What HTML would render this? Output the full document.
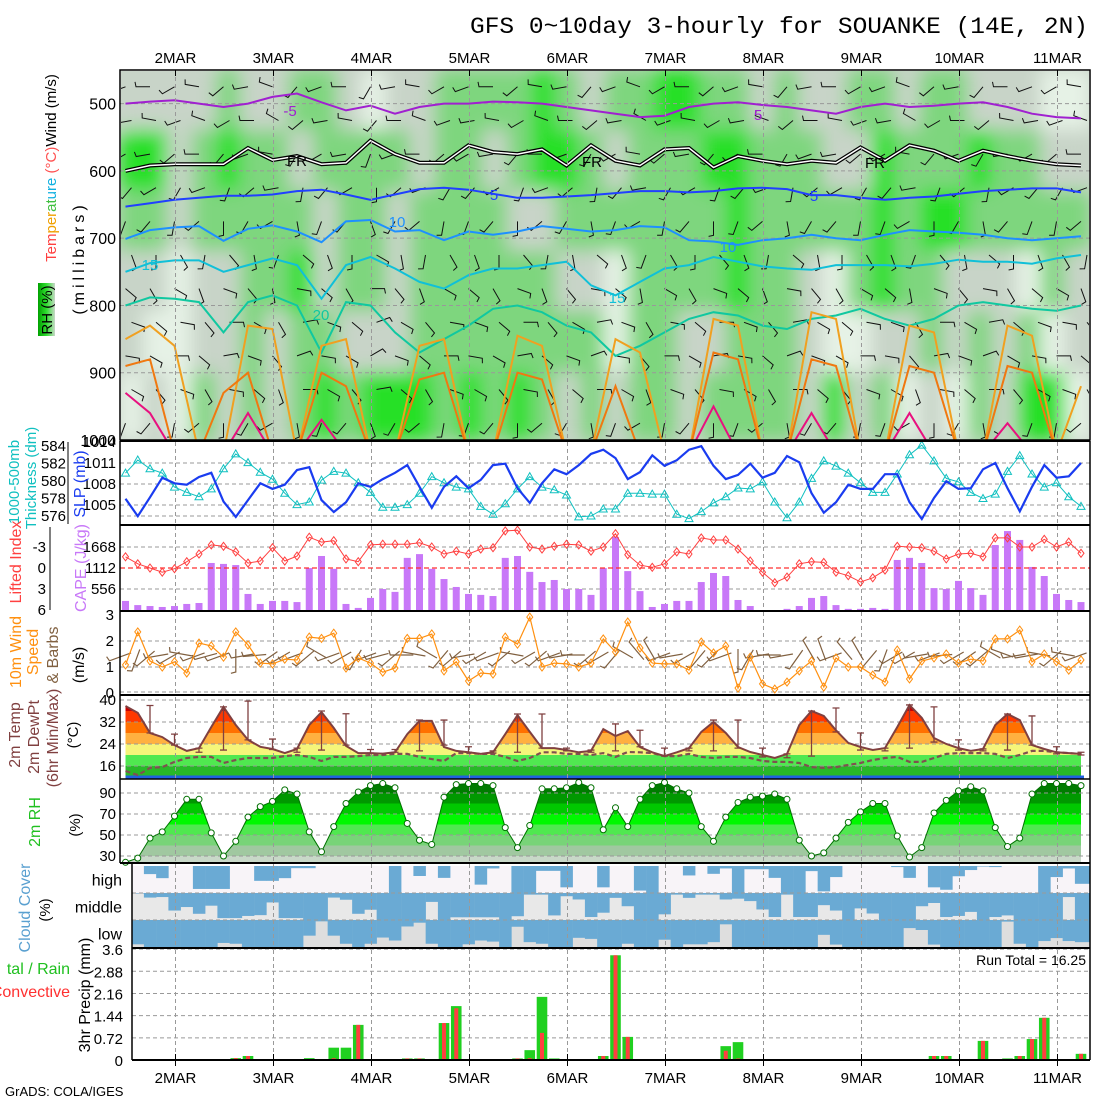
<!DOCTYPE html>
<html><head><meta charset="utf-8"><style>
html,body{margin:0;padding:0;background:#fff;}
svg{display:block;font-family:"Liberation Sans",sans-serif;}
</style></head><body>
<svg id="chart" width="1100" height="1100" viewBox="0 0 1100 1100" xmlns="http://www.w3.org/2000/svg">
<defs>
<filter id="blur" x="-5%" y="-5%" width="110%" height="110%"><feGaussianBlur stdDeviation="9"/></filter>
<clipPath id="mainclip"><rect x="121" y="71" width="968" height="369"/></clipPath>
<clipPath id="cloudclip"><rect x="132" y="865" width="958" height="82"/></clipPath>
<linearGradient id="rhbar" x1="0" y1="0" x2="1" y2="0"><stop offset="0" stop-color="#00a000"/><stop offset="0.5" stop-color="#30e030"/><stop offset="1" stop-color="#c8d8c8"/></linearGradient>
</defs>
<text x="470" y="33" font-family="Liberation Mono, monospace" font-size="23" textLength="618" lengthAdjust="spacingAndGlyphs">GFS 0~10day 3-hourly for SOUANKE (14E, 2N)</text>
<text x="5" y="1096" font-size="13">GrADS: COLA/IGES</text>
</svg>
<script>
// ---------- data ----------
const slp=[1005.9,1003.4,1006.1,1008.9,1008.1,1007.9,1009,1009.6,1005.5,1003.3,1005.7,1008.1,1007.3,1007.9,1010,1010.4,1005.7,1004,1005.4,1008.1,1007.6,1008.7,1009.6,1010.7,1007.6,1004.6,1007.6,1009.1,1007.4,1008.6,1010.7,1010.9,1007.4,1005.3,1008.1,1010.1,1009.4,1010.7,1012.3,1012.9,1011.7,1008.7,1009.7,1012.1,1010.6,1011.4,1012.9,1013.4,1010.6,1008.7,1009.3,1010.9,1008.9,1009.6,1012,1011.1,1006.7,1003.9,1005.4,1007.9,1007.3,1007.3,1009.4,1009.4,1005.4,1003,1006,1008.4,1007.3,1007.4,1010.1,1011,1007.4,1004.1,1007.6,1010.7,1008.9,1009.1,1011];
const thick=[580.9,582.4,581.4,580.9,579.3,578.7,578.2,579.1,581.4,583.1,582.1,581,580.2,578.6,577.3,577.6,580.1,581.1,580.9,579.8,578.7,577,577,577.3,578.6,580.5,579.8,579.3,579.1,577.1,576.2,577.4,579.1,580.5,579.3,579,578.4,575.9,576,576.8,576.8,578.6,578.6,578.5,578.5,576.2,575.7,576.5,577.5,578.2,579.2,579.1,579.9,577.6,575.8,577.6,580.3,582.3,581.7,580.9,579.8,578.7,578.7,580.8,583,584.1,582.3,580.3,579.9,578.7,578,578.5,581.1,582.9,580.8,579.3,579.8,578.2,577.1];
const lifted=[-1.6,-0.6,0,0.6,0.1,-0.9,-2,-3.3,-3.1,-2.3,-0.7,-1,-2.9,-1,-1.7,-4.4,-3.7,-3.9,-1.3,-0.9,-3.3,-3.4,-3.4,-3.4,-3.6,-3,-2,-2.4,-2,-2.7,-2.9,-5.3,-5.4,-3,-2.7,-3.1,-3.4,-3.3,-2.4,-3,-4.9,-1.9,-0.4,-0.1,-0.6,-2.3,-2,-4.3,-4,-4,-2.7,-1,0.6,2.1,1.3,-0.6,-0.9,-0.8,0.6,1.1,2,1.4,0.3,-3.1,-3,-2.9,-2.4,-1.3,-2,-2.1,-1.6,-4.3,-4.3,-3,-3,-4.1,-3,-3.7,-2.1];
const cape=[240,130,105,80,105,160,185,1245,1220,1190,425,160,240,240,210,1110,1430,1090,160,55,320,555,480,1380,1480,1090,820,610,425,400,370,1380,1430,1010,740,795,555,555,400,1110,1935,1030,500,80,160,240,240,740,980,900,265,105,0,0,30,105,320,370,130,30,30,55,30,1325,1380,1245,580,555,770,580,400,1720,2090,1855,1140,900,425,265,210];
const wspd=[1.08,2.35,1.23,1,1.2,0.77,1.92,1.81,1.38,2.35,1.85,1.15,1.12,1.3,1.27,2.15,2.1,2.3,0.96,1.35,1.15,0.8,0.96,2.1,2.1,2.27,0.85,1.2,0.46,0.77,0.73,2.15,1.88,2.92,1,1.15,1.12,1,1.15,2.08,1.58,2.73,1.73,1.15,1.12,1.12,0.88,1.96,1.54,1.81,0.19,1.38,0.35,0.15,0.42,0.85,1.23,0.23,1.35,1,1,0.69,0.42,1.65,0.54,1.23,1.35,1.5,1.15,1.3,1.23,2.08,2.08,2.42,1.2,1.5,1.2,0.88,1.27];
const wdir10=[250,200,230,260,240,280,250,255,250,180,260,265,235,240,250,230,300,250,240,210,250,255,230,270,280,300,220,230,260,240,250,230,280,240,230,250,260,270,230,240,220,300,320,330,250,260,240,220,225,250,180,210,260,270,260,215,330,340,250,320,330,220,200,240,240,260,250,265,240,235,230,300,290,260,260,280,230,280,250];
const temp2m=[37.8,35.3,28,26.5,23.6,21.5,22.5,30.2,37.5,30.9,25.5,23,22.2,20.7,22.2,30.9,35.6,29.8,23.3,20.7,20.7,20.5,21,27.6,32.4,32.4,22.9,21.5,21,20.4,21,27.6,34.5,28.4,22.5,22.5,21.8,21,21.5,29.4,26.9,28.7,22.9,21,19.6,21,22.5,28.4,32,28,22.9,21.1,20,18.9,20.4,30.9,36,34.2,29,24.4,22.9,21.8,22.5,30.2,38.2,33.5,26.2,24,22.5,21.5,22.2,30.9,34.9,32.7,23.6,22.2,21,20.7,20.4];
const dewpt=[14.2,12.7,15.3,15.6,17.5,18.9,19.3,19.3,17.1,18.2,18.9,18.9,18.9,19.6,20,19.3,17.8,19.3,19.3,19.6,20,20,20.4,20.4,19.3,18.5,17.8,20.7,20.7,20.4,20.4,19.3,17.8,18.9,21,21,20.4,20.4,20,20.7,19.3,21.1,21,20.7,19.6,19.6,20.4,19.3,18.9,19.3,19.3,18.9,17.8,17.5,17.5,17.1,15.6,15.3,15.6,16.4,17.1,18.2,18.9,19.3,17.5,17.5,18.9,20.4,20.7,20.7,20.7,20.4,18.9,20,21.5,21.5,21,20.7,20.4];
const tmax6=[null,38,27.6,22.5,37.5,39.6,25.8,22.5,36,35,22,22,32.7,32.7,23,21.5,34.9,34.9,22.5,21.8,31.3,29,22.5,22.5,32.7,32.7,22.5,20.4,36,37.1,28,22.5,38.2,37.5,25.5,22.2,34.9,34.2,23,21];
const tmin6=[null,28,23.6,21,21.8,25.5,22,21,21.8,23.6,20.7,21,21.5,23.6,21,20.7,21,22.5,21.5,21,21.5,23,19.6,21.5,21.5,22.5,19.3,19,19.6,28.4,21.8,21.5,22.5,24.7,21.8,21.5,21.8,23.6,20.4,20];
const rh2m=[24,28,47,53,68,84,84,52,30,44,67,77,82,93,89,53,34,58,80,91,97,99,95,61,45,41,86,98,99,99,97,57,38,59,94,94,95,100,95,55,76,58,84,97,100,94,90,58,44,67,81,86,87,89,84,45,30,33,47,62,72,80,80,49,29,38,71,83,92,96,92,57,39,47,89,99,99,99,97];
const cloudHigh=[0,0,30,45,0,0,85,85,85,0,0,55,55,45,8,8,0,0,0,0,0,0,100,0,37,0,44,0,0,69,9,0,100,100,18,18,79,0,0,79,0,0,91,100,0,0,35,0,29,9,100,12,12,44,100,100,19,94,41,0,0,0,0,4,44,0,79,88,38,15,2,4,0,0,0,100,41,9,66];
const cloudMid=[2,2,17,15,65,52,77,47,93,93,85,82,35,93,93,100,100,17,25,77,62,100,100,100,100,33,100,90,90,90,90,100,86,6,6,83,12,24,89,73,18,49,100,100,79,6,18,6,6,24,21,30,61,89,6,89,89,45,65,100,57,76,100,100,100,49,37,89,85,70,100,89,83,100,100,100,100,15,100];
const cloudLow=[90,90,100,100,100,100,100,100,85,88,100,100,100,100,100,58,5,58,88,100,88,65,76,24,10,88,100,100,90,76,80,100,25,82,88,100,100,66,70,100,100,88,100,100,73,100,90,90,82,16,100,100,100,100,100,100,100,55,91,100,100,100,100,100,30,37,91,100,100,100,100,100,6,88,100,78,67,78,82];
const precipTotal=[0,0,0,0,0,0,0,0,0,0.06,0.13,0,0,0,0,0.06,0,0.4,0.4,1.14,0,0,0,0.05,0.05,0,1.2,1.75,0,0,0,0,0.05,0.32,2.05,0.05,0,0,0,0.13,3.4,0.75,0,0,0,0,0,0,0,0.45,0.58,0,0,0,0,0,0,0,0,0,0,0,0,0,0,0,0.13,0.13,0,0,0.62,0,0.05,0.13,0.68,1.37,0,0,0.2];
const precipConv=[0,0,0,0,0,0,0,0,0,0.06,0.13,0,0,0,0,0,0,0.06,0,1.14,0,0,0,0.05,0.05,0,1.2,1.68,0,0,0,0,0.05,0.06,0.88,0,0,0,0,0.13,3.4,0.75,0,0,0,0,0,0,0,0.3,0.05,0,0,0,0,0,0,0,0,0,0,0,0,0,0,0,0.13,0.13,0,0,0.62,0,0,0.13,0.68,1.37,0,0,0.2];
const dayLabels=['2MAR','3MAR','4MAR','5MAR','6MAR','7MAR','8MAR','9MAR','10MAR','11MAR'];
const rhRows=["1111211221011222232122332212112212211100","3312322122221221233212223322211322232211","2212222212212222112222222322222323322222","1101122312212222221102222322102322111021","1001121221112222222202211222100112121201","0102121232333232321212212222131201021330"];
const rhRowP=[[450,540],[540,630],[630,720],[720,810],[810,900],[900,1000]];
const isoM5=[500,497,495,500,505,500,490,485,498,510,503,515,505,500,500,497,498,500,505,510,515,520,518,505,500,498,502,505,510,515,505,500,505,503,500,498,505,515,520,522];
const iso0=[600,592,590,590,590,566,584,578,590,588,555,575,588,588,562,572,575,568,592,562,585,592,568,566,595,578,585,590,585,588,565,585,562,570,585,570,578,585,590,592];
const iso5=[653,648,643,640,637,637,635,630,628,635,643,635,627,625,628,634,640,640,638,636,633,630,630,632,630,626,625,627,636,636,640,643,640,638,634,630,628,626,626,632];
const iso10=[701,688,684,682,704,686,681,690,706,675,673,690,688,703,690,695,690,682,686,690,688,682,684,703,705,710,703,700,695,700,703,695,688,690,692,695,700,703,700,697];
const iso15=[750,737,733,733,750,740,730,740,790,740,728,745,765,775,755,745,745,740,735,770,785,765,745,740,728,735,742,745,747,740,740,740,742,738,732,735,735,738,730,725];
const iso20=[800,788,790,795,840,795,785,800,870,795,800,840,870,850,830,805,800,810,830,840,875,860,840,820,810,815,830,835,820,815,805,820,830,820,800,795,800,805,808,800];
const iso25=[850,830,860,1020,1020,830,835,1020,860,850,1020,1020,860,850,1020,1020,845,860,1020,1020,850,870,1020,1020,820,830,1020,1020,810,820,1020,1020,830,840,1020,1020,830,845,1020,920];
const iso30=[890,880,1020,1020,930,900,1020,1020,900,920,1020,1020,910,900,1020,1020,900,910,1020,1020,920,1020,1020,1020,870,880,1020,1020,880,890,1020,1020,890,900,1020,1020,890,900,1020,1020];
const iso35=[930,960,1020,1020,1020,960,1020,1020,970,1020,1020,1020,1020,1020,1020,1020,1020,1020,1020,1020,1020,1020,1020,1020,950,1020,1020,1020,960,1020,1020,1020,960,1020,1020,1020,975,1020,1020,1020];
const barbLevels=[475,525,575,625,675,725,775,825,875,925,975];
const barbLevelDir=[250,260,240,220,200,160,130,110,100,120,200];
const barbTimeShift=[0,20,-10,30,-20,10,40,-30,0,20,-40,10,30,-10,0,20,-20,30,10,-30,0,40,-10,20,-20,0,30,-30,10,20,-10,0,40,-20,10,-30,20,0,-10,30];

// ---------- helpers ----------
const svg=document.getElementById('chart');
const NS='http://www.w3.org/2000/svg';
function mk(tag,attrs,parent){const e=document.createElementNS(NS,tag);for(const k in attrs)e.setAttribute(k,attrs[k]);(parent||svg).appendChild(e);return e;}
function X(i){return 125.5+12.25*i;}
function dayX(d){return 175.5+98*d;}
function yP(p){return 70+(p-450)*370/550;}
function ySLP(v){return 505-(v-1005)*7;}
function yTh(v){return 516-(v-576)*8.75;}
function yLI(v){return 568+v*7;}
function yCape(v){return 610-v*21/556;}
function yW(v){return 693-26*v;}
function yT(v){return 700+(40-v)*2.75;}
function yR(v){return 856-(v-30)*1.05;}
function yPr(v){return 1060-v*30.8;}
function pts(arr,fy){return arr.map((v,i)=>X(i).toFixed(1)+','+fy(v).toFixed(1)).join(' ');}

// ---------- main panel RH field ----------
const rhG=mk('g',{'clip-path':'url(#mainclip)'});


mk('rect',{x:120,y:70,width:970,height:370,fill:'#c8d4c8'},rhG);
const rhInner=mk('g',{filter:'url(#blur)'},rhG);
const rhCol=['#e6f2e6','#c8d4c8','#7ed67e','#28e028'];
rhRows.forEach((row,r)=>{
  for(let c=0;c<row.length;c++){
    const cell=mk('rect',{x:120+c*24.25-1,y:yP(rhRowP[r][0])-1,width:26.5,height:yP(rhRowP[r][1])-yP(rhRowP[r][0])+2,fill:rhCol[+row[c]]},rhInner);
    
    
  }
});
[500,600,700,800,900].forEach(p=>{
  const g=mk('line',{x1:120,x2:1090,y1:yP(p),y2:yP(p),stroke:'#999',"stroke-dasharray":'4,3'});
  
  
});
const barbG=mk('g',{'clip-path':'url(#mainclip)',stroke:'#111','stroke-width':1,fill:'none'});


barbLevels.forEach((p,l)=>{
  barbTimeShift.forEach((s,k)=>{
    const x=X(2*k)+((l%2)?6:0), y=yP(p);
    const a=(barbLevelDir[l]+s)*Math.PI/180;
    const x2=x+14*Math.sin(a), y2=y-14*Math.cos(a);
    const tx=x2+5*Math.sin(a+Math.PI/2.3), ty=y2-5*Math.cos(a+Math.PI/2.3);
    const b=mk('path',{d:`M${x.toFixed(1)},${y.toFixed(1)}L${x2.toFixed(1)},${y2.toFixed(1)}L${tx.toFixed(1)},${ty.toFixed(1)}`},barbG);
    
    
  });
});
const isoDefs=[[isoM5,'#a020d0',2,'isotherm-minus5'],[iso5,'#2040ff',2,'isotherm-5'],[iso10,'#1e90ff',2,'isotherm-10'],[iso15,'#10c0d8',2,'isotherm-15'],[iso20,'#10c8a0',2,'isotherm-20'],[iso25,'#f0a020',2,'isotherm-25'],[iso30,'#f07810',2,'isotherm-30'],[iso35,'#e8107f',2,'isotherm-35']];
const isoG=mk('g',{'clip-path':'url(#mainclip)',fill:'none'});


function isoPts(arr){return arr.map((p,k)=>X(2*k).toFixed(1)+','+yP(p).toFixed(1)).join(' ');}
const fr1=mk('polyline',{points:isoPts(iso0),stroke:'#000','stroke-width':4},isoG);


const fr2=mk('polyline',{points:isoPts(iso0),stroke:'#fff','stroke-width':1.5},isoG);


isoDefs.forEach(d=>{
  const l=mk('polyline',{points:isoPts(d[0]),stroke:d[1],'stroke-width':d[2]},isoG);
  
  
});
const isoLabels=[['-5',290,116,'#a020d0'],['5',758,120,'#a020d0'],['FR',297,166,'#000'],['FR',592,167,'#000'],['FR',875,168,'#000'],['5',494,200,'#2040ff'],['5',814,201,'#2040ff'],['10',397,227,'#1e90ff'],['10',728,252,'#1e90ff'],['15',150,270,'#10c0d8'],['15',617,303,'#10c0d8'],['20',321,320,'#10c8a0']];
isoLabels.forEach(t=>{
  const e=mk('text',{x:t[1],y:t[2],fill:t[3],'font-size':15,'text-anchor':'middle'});
  e.textContent=t[0];
  
  
});
const mf=mk('rect',{x:120,y:70,width:970,height:370,fill:'none',stroke:'#000','stroke-width':1.5});



dayLabels.forEach((d,k)=>{
  const x=dayX(k);
  const g1=mk('line',{x1:x,x2:x,y1:70,y2:440,stroke:'#999','stroke-dasharray':'4,3'});
  
  
  const t=mk('text',{x:x,y:63,'font-size':15,'text-anchor':'middle'});
  t.textContent=d;
  
  
  const b=mk('text',{x:x,y:1083,'font-size':15,'text-anchor':'middle'});
  b.textContent=d;
  
  
  const tk=mk('line',{x1:x,x2:x,y1:70,y2:76,stroke:'#000'});
  
  
});

function hgrid(ys,x0,name){ys.forEach(y=>{const g=mk('line',{x1:x0,x2:1090,y1:y,y2:y,stroke:'#999','stroke-dasharray':'4,3'});});}
function vgrid(y1,y2){dayLabels.forEach((d,k)=>{const x=dayX(k);const g=mk('line',{x1:x,x2:x,y1:y1,y2:y2,stroke:'#999','stroke-dasharray':'4,3'});});}

// ---------- SLP / thickness ----------
hgrid([1011,1008,1005].map(ySLP).concat([yTh(576)]),120,'slp-gridline');
vgrid(442,525);
const th=mk('polyline',{points:pts(thick,yTh),fill:'none',stroke:'#10c0c0','stroke-width':1});


thick.forEach((v,i)=>{const m=mk('path',{d:`M${X(i)-4},${yTh(v)+3}L${X(i)},${yTh(v)-4}L${X(i)+4},${yTh(v)+3}Z`,fill:'none',stroke:'#10c0c0'});});
const sl=mk('polyline',{points:pts(slp,ySLP),fill:'none',stroke:'#1a3cf0','stroke-width':2.2});



// ---------- CAPE / LI ----------
hgrid([yCape(1668),yCape(556)],120,'cape-gridline');
vgrid(526,610);
cape.forEach((v,i)=>{const r=mk('rect',{x:X(i)-3.5,y:yCape(v),width:7,height:610-yCape(v),fill:'#c878f8'});});
const zl=mk('line',{x1:120,x2:1090,y1:yLI(0),y2:yLI(0),stroke:'#ff3030','stroke-width':1.2,'stroke-dasharray':'5,3'});


const li=mk('polyline',{points:pts(lifted,yLI),fill:'none',stroke:'#ff4040','stroke-width':1});


lifted.forEach((v,i)=>{const y=yLI(v);const m=mk('path',{d:`M${X(i)},${y-4}L${X(i)+3},${y}L${X(i)},${y+4}L${X(i)-3},${y}Z`,fill:'none',stroke:'#ff4040'});});

// ---------- 10m wind ----------
hgrid([yW(2),yW(1),yW(0)-1],120,'wind-gridline');
vgrid(612,694);
wdir10.forEach((d,i)=>{const a=d*Math.PI/180;const x=X(i),y=655;const x2=x+17*Math.sin(a),y2=y-17*Math.cos(a);const b=mk('path',{d:`M${(x-6*Math.sin(a)).toFixed(1)},${(y+6*Math.cos(a)).toFixed(1)}L${x2.toFixed(1)},${y2.toFixed(1)}L${(x2+5*Math.sin(a+1.3)).toFixed(1)},${(y2-5*Math.cos(a+1.3)).toFixed(1)}`,fill:'none',stroke:'#806040','stroke-width':1.2});});
const ws=mk('polyline',{points:pts(wspd,yW),fill:'none',stroke:'#ff9010','stroke-width':1.2});


wspd.forEach((v,i)=>{const y=yW(v);const m=mk('path',{d:`M${X(i)},${y-4}L${X(i)+3},${y}L${X(i)},${y+4}L${X(i)-3},${y}Z`,fill:'none',stroke:'#ff9010'});});

// ---------- 2m temp ----------
const tclip=mk('clipPath',{id:'tclip'},svg.querySelector('defs'));
mk('polygon',{points:pts(temp2m,yT)+` ${X(78)},777 ${X(0)},777`},tclip);
const tBands=[[-10,16,'#28b828'],[16,20,'#50e850'],[20,24,'#f5f57a'],[24,28,'#ffb040'],[28,32,'#ff7000'],[32,36,'#ff3800'],[36,50,'#c80000']];
const tg=mk('g',{'clip-path':'url(#tclip)'});


tBands.forEach(b=>{const r=mk('rect',{x:120,y:yT(b[1]),width:970,height:yT(b[0])-yT(b[1]),fill:b[2]},tg);});
const bs=mk('rect',{x:X(0),y:775.5,width:X(78)-X(0)+3,height:3,fill:'#2060e0'});


hgrid([40,32,24,16].map(yT),120,'temp-gridline');
vgrid(697,778);
tmax6.forEach((v,k)=>{if(v===null)return;const x=X(2*k),y1=yT(v),y2=yT(tmin6[k]);const p=mk('path',{d:`M${x},${y1}V${y2}M${x-3.5},${y1}H${x+3.5}M${x-3.5},${y2}H${x+3.5}`,stroke:'#804040','stroke-width':1.3,fill:'none'});});
const dp=mk('polyline',{points:pts(dewpt,yT),fill:'none',stroke:'#805050','stroke-width':2.2,'stroke-dasharray':'5,3'});


const tl=mk('polyline',{points:pts(temp2m,yT),fill:'none',stroke:'#804040','stroke-width':2});



// ---------- 2m RH ----------
const rclip=mk('clipPath',{id:'rclip'},svg.querySelector('defs'));
mk('polygon',{points:pts(rh2m,yR)+` ${X(78)},862 ${X(0)},862`},rclip);
const rBands=[[0,30,'#c8d8c8'],[30,40,'#a0c8a0'],[40,50,'#78d478'],[50,60,'#50e850'],[60,70,'#00f800'],[70,80,'#00c800'],[80,90,'#009800'],[90,110,'#007c00']];
const rg=mk('g',{'clip-path':'url(#rclip)'});


rBands.forEach(b=>{const r=mk('rect',{x:120,y:yR(b[1]),width:970,height:yR(b[0])-yR(b[1]),fill:b[2]},rg);});
hgrid([90,70,50,30].map(yR),120,'rh-gridline');
vgrid(780,862);
const rl=mk('polyline',{points:pts(rh2m,yR),fill:'none',stroke:'#007000','stroke-width':1});


rh2m.forEach((v,i)=>{const c=mk('circle',{cx:X(i),cy:yR(v),r:3,fill:'#fff',stroke:'#007000'});});

// ---------- cloud cover ----------
const cg=mk('g',{'clip-path':'url(#cloudclip)'});


const bandsC=[[cloudHigh,866,893,'#f8f4f8','high'],[cloudMid,893,920,'#e8e8e8','middle'],[cloudLow,920,947,'#dedede','low']];
bandsC.forEach(b=>{
  const bg=mk('rect',{x:132,y:b[1],width:958,height:b[2]-b[1],fill:b[3]},cg);
  
  
  b[0].forEach((v,i)=>{const w=(i===78)?15:12.5;const r=mk('rect',{x:X(i)-6.1,y:b[1],width:w,height:(b[2]-b[1])*v/100,fill:'#6aaad4'},cg);});
  const t=mk('text',{x:122,y:(b[1]+b[2])/2+6,'font-size':16,'text-anchor':'end'});
  t.textContent=b[4];
  
  
});
hgrid([893,920],132,'cloud-gridline');
vgrid(864,947);

// ---------- precip ----------
hgrid([3.6,2.88,2.16,1.44,0.72].map(yPr),132,'precip-gridline');
vgrid(950,1060);
precipTotal.forEach((v,i)=>{if(v<=0)return;const r=mk('rect',{x:X(i)-5.3,y:yPr(v),width:10.6,height:1060-yPr(v),fill:'#20d020'});});
precipConv.forEach((v,i)=>{if(v<=0)return;const r=mk('rect',{x:X(i)-2,y:yPr(v),width:4,height:1060-yPr(v),fill:'#ff4040'});});
const rt=mk('text',{x:1086,y:965,'font-size':14,'text-anchor':'end'});
rt.textContent='Run Total = 16.25';



// ---------- frames ----------
const frames=[['M120,441H1090',2],['M120,525H1090',2],['M120,611H1090',2],['M120,695H1090',2],['M120,779H1090',1.5],['M120,863H1090',2],['M132,948H1090',2],['M132,1060H1090',2],['M120,441V863',1.5],['M132,863V1060',1.5],['M1090,441V1060',1.5],['M68,442V524',1],['M50,527V610',1]];
frames.forEach(f=>{const p=mk('path',{d:f[0],stroke:'#000','stroke-width':f[1],fill:'none'});});
dayLabels.forEach((d,k)=>{const t=mk('line',{x1:dayX(k),x2:dayX(k),y1:1054,y2:1066,stroke:'#000'});});

// ---------- tick labels ----------
function lab(txt,x,y,name,size,anchor){const t=mk('text',{x:x,y:y,'font-size':size||15,'text-anchor':anchor||'end'});t.textContent=txt;return t;}
[500,600,700,800,900,1000].forEach(p=>lab(String(p),116,yP(p)+6,'pressure-tick-label',16));
[1014,1011,1008,1005].forEach(v=>lab(String(v),116,ySLP(v)+5,'slp-tick-label'));
[584,582,580,578,576].forEach(v=>lab(String(v),66,yTh(v)+5,'thickness-tick-label'));
[1668,1112,556].forEach(v=>lab(String(v),116,yCape(v)+5,'cape-tick-label'));
[-3,0,3,6].forEach(v=>lab(String(v),46,yLI(v)+5,'li-tick-label'));
[3,2,1,0].forEach(v=>lab(String(v),114,yW(v)+5,'wind-tick-label'));
[40,32,24,16].forEach(v=>lab(String(v),116,yT(v)+5,'temp-tick-label'));
[90,70,50,30].forEach(v=>lab(String(v),116,yR(v)+5,'rh-tick-label'));
['3.6','2.88','2.16','1.44','0.72','0'].forEach(v=>lab(v,123,yPr(+v)+6,'precip-tick-label'));

// ---------- rotated axis titles ----------
function rot(parts,x,y,name,size,ls){const t=mk('text',{x:x,y:y,'font-size':size||15,'text-anchor':'middle',transform:`rotate(-90 ${x} ${y})`});if(ls)t.setAttribute('letter-spacing',ls);parts.forEach(p=>{const s=mk('tspan',{fill:p[1]},t);s.textContent=p[0];});return t;}
const rb=mk('rect',{x:38,y:283,width:17,height:53,fill:'url(#rhbar)'});


rot([['RH (%)','#000']],52,310,'rh-axis-title',15);
rot([['Tem','#ff4040'],['per','#f0a000'],['at','#40c040'],['ure','#10b0e0'],[' (°C)','#ff5050'],['Wind (m/s)','#000']],56,168,'main-axis-title',15);
rot([['(millibars)','#000']],84,258,'pressure-axis-title',16,'4');
rot([['1000-500mb','#10c0c0']],19,482,'thickness-axis-title',15);
rot([['Thickness (dm)','#10c0c0']],36,478,'thickness-axis-title-2',15);
rot([['SLP (mb)','#1a3cf0']],85,484,'slp-axis-title',16);
rot([['Lifted Index','#ff4040']],21,562,'li-axis-title',16);
rot([['CAPE (J/kg)','#c878f8']],86,568,'cape-axis-title',16);
rot([['10m Wind','#ff9010']],21,652,'wind-axis-title',16);
rot([['Speed','#ff9010']],38,652,'wind-axis-title-2',16);
rot([['& Barbs','#806040']],58,655,'wind-axis-title-3',16);
rot([['(m/s)','#000']],84,665,'wind-axis-units',16);
rot([['2m Temp','#804040']],20,735,'temp-axis-title',16);
rot([['2m DewPt','#804040']],39,737,'dewpt-axis-title',16);
rot([['(6hr Min/Max)','#804040']],58,738,'minmax-axis-title',16);
rot([['(°C)','#000']],78,735,'temp-axis-units',15);
rot([['2m RH','#20c020']],40,822,'rh2m-axis-title',16);
rot([['(%)','#000']],80,825,'rh2m-axis-units',15);
rot([['Cloud Cover','#5aa0d0']],30,908,'cloud-axis-title',16);
rot([['(%)','#000']],50,910,'cloud-axis-units',15);
rot([['3hr Precip (mm)','#000']],90,995,'precip-axis-title',16);
const tr=lab('tal / Rain',70,974,'precip-total-legend',16);tr.setAttribute('fill','#20c020');
const cv=lab('Convective',70,997,'precip-conv-legend',16);cv.setAttribute('fill','#ff3030');
</script>
</body></html>
